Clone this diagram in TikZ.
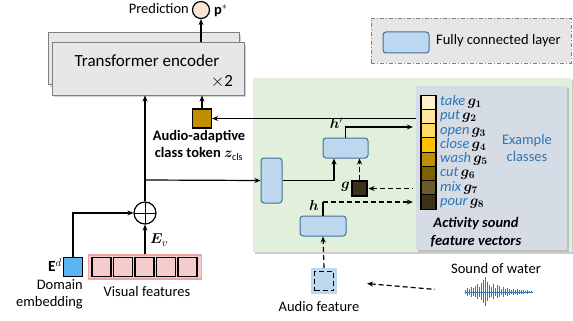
\documentclass[tikz,border=0pt]{standalone}
\usepackage{fontspec}
\setmainfont{Carlito}
\usepackage{amsmath}
\usepackage{bm}
\usetikzlibrary{arrows.meta,shadows}

\definecolor{fcfill}{HTML}{BDD7EE}
\definecolor{fcdraw}{HTML}{41719C}
\definecolor{panelgreen}{HTML}{E2EFDA}
\definecolor{panelgray}{HTML}{D6DCE5}
\definecolor{encgray}{HTML}{E7E7E7}
\definecolor{legendgray}{HTML}{E7E6E6}
\definecolor{classblue}{HTML}{2E75B6}
\definecolor{tokengold}{HTML}{BF8F00}
\definecolor{visfill}{HTML}{F4CCCC}
\definecolor{visedge}{HTML}{EBA5A5}
\definecolor{predfill}{HTML}{FBE3D6}
\definecolor{domblue}{HTML}{5BB5F5}
\definecolor{vecA}{HTML}{FFF2CC}
\definecolor{vecB}{HTML}{FFE699}
\definecolor{vecC}{HTML}{FFD966}
\definecolor{vecD}{HTML}{FFC000}
\definecolor{vecE}{HTML}{BF9000}
\definecolor{vecF}{HTML}{7F6000}
\definecolor{vecG}{HTML}{6B5A2B}
\definecolor{vecH}{HTML}{3B3219}

\tikzset{
  lbl/.style={font=\fontsize{14.5}{17}\selectfont, inner sep=1pt},
  fc/.style={draw=fcdraw, fill=fcfill, rounded corners=3pt, line width=1pt},
  enc/.style={draw=gray, fill=encgray, line width=1pt, drop shadow={opacity=0.35}},
  cellbox/.style={draw, line width=1.2pt, minimum width=15pt, minimum height=14.25pt, inner sep=0pt},
  sq/.style={draw, line width=1.2pt, minimum size=19pt, inner sep=0pt},
  conn/.style={line width=1.2pt, >={Stealth[length=6pt,width=5pt]}},
  dashline/.style={dash pattern=on 5pt off 3pt},
}

\begin{document}
\begin{tikzpicture}[x=1pt, y=-1pt]
\useasboundingbox (0,0) rectangle (573,321);
% Legend with dash-dot border
\node[draw=gray, fill=legendgray, line width=0.8pt, dash pattern=on 4pt off 2pt on 1pt off 2pt,
  minimum width=200pt, minimum height=45pt] (legend) at (471,40.5) {};
\node[fc, minimum width=46pt, minimum height=21pt] (legfc) at (406,42.5) {};
\node[lbl, right] (legtxt) at (435,41) {Fully connected layer};
% Green panel and activity sound feature box
\fill[panelgreen, drop shadow={opacity=0.4}] (253,78) rectangle (572,252);
\node[fill=panelgray, minimum width=151pt, minimum height=164pt, drop shadow={opacity=0.4}] (featbox) at (491.5,168) {};
% Transformer encoder (two stacked boxes)
\node[enc, minimum width=191pt, minimum height=52pt] (encback) at (143.5,59) {};
\node[enc, minimum width=192pt, minimum height=52pt] (enc) at (148,69) {};
\node[font=\fontsize{17}{20}\selectfont, inner sep=0pt, text height=12pt, text depth=3pt] (enctxt) at (147,62) {Transformer encoder};
\node[font=\fontsize{17}{20}\selectfont, inner sep=0pt, text height=11pt, text depth=0pt] (enctimes) at (222,81.5) {$\times$2};
% Prediction
\node[circle, draw, fill=predfill, line width=1.2pt, minimum size=17pt, inner sep=0pt] (pred) at (201,10) {};
\node[lbl, left] (predtxt) at (190,9) {Prediction};
\node[lbl, right] (predsym) at (213,11) {$\mathbf{p}^{*}$};
\draw[conn,->] (enc.north -| pred) -- (pred.south);
% Audio-adaptive class token
\node[sq, fill=tokengold] (tok) at (202,118.5) {};
\node[lbl, font=\fontsize{14.5}{17}\selectfont\bfseries, align=center] (toktxt) at (199,145.5)
  {Audio-adaptive\\class token $\bm{z}_{\mathrm{cls}}$};
\draw[conn,->] (tok.north) -- (tok.north |- enc.south);
\draw[conn,<-] (tok.east) -- (tok.east -| featbox.west);
% Sum of visual features and domain embedding
\node[circle, draw, line width=1.2pt, minimum size=22pt, inner sep=0pt,
  path picture={\draw[line width=0.9pt] (path picture bounding box.north) -- (path picture bounding box.south)
  (path picture bounding box.west) -- (path picture bounding box.east);}] (plus) at (145,213) {};
\draw[conn,->] (plus.north) -- (plus.north |- enc.south);
% Domain embedding
\node[sq, fill=domblue] (dom) at (73,267) {};
\node[lbl, left, font=\fontsize{15.5}{17}\selectfont] (domsym) at (63,265) {$\mathbf{E}^{d}$};
\node[lbl, align=right, anchor=north east] (domtxt) at (84,278) {Domain\\embedding};
\draw[conn,->] (dom.north) |- (plus.west);
% Visual features
\node[draw=visedge, fill=visfill, line width=1.2pt, minimum width=113pt, minimum height=24pt] (vis) at (145,267) {};
\foreach \i in {1,...,5}
  \node[sq, fill=visfill] (vis\i) at (80+21.5*\i,267) {};
\node[lbl] (vistxt) at (147,292) {Visual features};
\draw[conn,->] (vis.north) -- (plus.south);
\node[lbl, right, font=\fontsize{15.5}{17}\selectfont] (evsym) at (149,240) {$\bm{E}_{v}$};
% Fully connected layers
\node[fc, minimum width=21pt, minimum height=45pt] (fcv) at (271.5,180.5) {};
\node[fc, minimum width=45pt, minimum height=20pt] (fchp) at (345.5,148) {};
\node[fc, minimum width=46pt, minimum height=20pt] (fch) at (323,226) {};
\coordinate (split) at (145,180);
\draw[conn,->] (split) -- (fcv.west);
\draw[conn,->] (fcv.east) -| ([xshift=-11.5pt]fchp.south);
% h' to the feature vectors
\coordinate (hpbend) at (345.5,127);
\draw[conn,->, shorten >=3pt] (fchp.north) -- (hpbend) -- (hpbend -| featbox.west);
\node[lbl, left] (hpsym) at (344,123) {$\bm{h}'$};
% g from the feature vectors
\node[draw, fill=vecH, line width=1.2pt, minimum size=15pt, inner sep=0pt] (gsq) at (359.5,188.5) {};
\node[lbl, left] (gsym) at (351,187) {$\bm{g}$};
\draw[conn,->, dashline] (gsq.north) -- (gsq.north |- fchp.south);
\draw[conn,<-, dashline, shorten <=1pt, shorten >=3pt] (gsq.east) -- (gsq.east -| featbox.west);
% h to the feature vectors
\coordinate (hbend) at (323,202);
\draw[conn] (fch.north) -- (hbend);
\draw[conn,->, dashline, shorten >=3pt] (hbend) -- (hbend -| featbox.west);
\node[lbl, left] (hsym) at (320,205) {$\bm{h}$};
% Activity sound feature vectors
\foreach \col/\name [count=\i] in {vecA/take, vecB/put, vecC/open, vecD/close, vecE/wash, vecF/cut, vecG/mix, vecH/pour} {
  \node[cellbox, fill=\col] (vec\i) at (428.5,88+14.25*\i) {};
  \node[lbl, right, text=classblue, inner sep=0pt, text height=9pt, text depth=2.5pt] (cls\i) at (440,88+14.25*\i)
    {\textit{\name}\,\textcolor{black}{$\bm{g_{\i}}$}};
}
\node[lbl, text=classblue, align=center] (extxt) at (527,148.5) {Example\\classes};
\node[lbl, font=\fontsize{14.5}{18}\selectfont\bfseries\itshape, align=center] (feattxt) at (476,232) {Activity sound\\feature vectors};
% Audio feature
\node[fill=fcfill, minimum size=26pt, inner sep=0pt] (aud) at (324,281) {};
\node[draw, dashline, line width=1.2pt, minimum size=19pt, inner sep=0pt] (audin) at (324,281) {};
\node[lbl] (audtxt) at (319,307) {Audio feature};
\draw[conn,->, dashline] (aud.north) -- (fch.south);
% Sound of water
\node[lbl] (sndtxt) at (496,269) {Sound of water};
\node[minimum width=68pt, minimum height=34pt, inner sep=0pt] (wave) at (499,292) {};
\draw[classblue, line width=0.6pt] (wave.west) -- (wave.east);
\foreach \a [count=\k] in {2,4,3,5,4,6,8,5,9,12,15,10,7,5,8,4,7,6,3,5,3,4,3,2.5,3.5,2.5,3,2,2.5,2,1.5,2,1.2,0.8}
  \draw[classblue, line width=0.9pt] (463+2*\k,292-\a) -- (463+2*\k,292+0.9*\a);
\draw[conn,<-, dashline, shorten <=30pt, shorten >=30pt] (aud.east) -- (wave.west);
\end{tikzpicture}
\end{document}
